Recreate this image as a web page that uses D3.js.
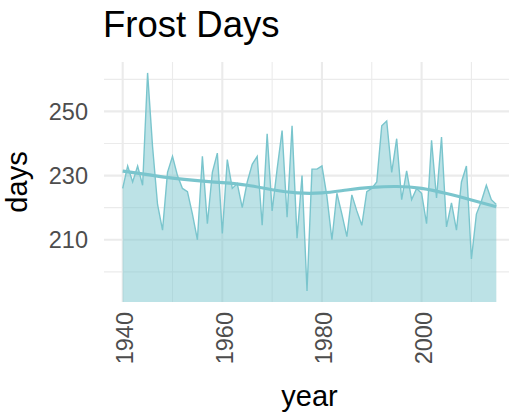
<!DOCTYPE html>
<html>
<head>
<meta charset="utf-8">
<script src="https://cdn.jsdelivr.net/npm/d3@7"></script>
<style>
  body { margin: 0; background: #fff; }
  text { font-family: "Liberation Sans", Arial, sans-serif; }
</style>
</head>
<body>
<div class="visHolder"></div>
<script>
// data
const years = d3.range(1940, 2016);
const days = [
  226, 233, 228, 233, 227, 262, 239, 221, 213, 231,
  236, 230, 226, 225, 218, 210, 236, 215, 231, 237,
  212, 235, 226, 227.5, 220, 228, 233.5, 236, 214.5, 243,
  219, 232, 244, 217, 245.5, 210.5, 230, 194, 232, 232,
  233, 223.5, 210, 224.5, 218, 211, 224, 219, 214.5, 225,
  226, 228, 245.5, 247, 231, 241.5, 222.5, 231.5, 222.5, 226,
  224.5, 215, 241, 223, 242, 214, 221.5, 213, 228, 233,
  204, 218, 222, 227, 222.5, 221
];
// smoothed trend
const trendYears = [1940, 1945, 1950, 1955, 1960, 1965, 1970, 1975, 1980, 1985, 1990, 1995, 2000, 2005, 2010, 2015];
const trendDays = [231.4, 230.3, 229.2, 228.4, 227.8, 227.0, 225.6, 224.6, 224.6, 225.5, 226.3, 226.6, 226.0, 224.4, 222.4, 220.3];

const xMajor = [1940, 1960, 1980, 2000];
const xMinor = [1950, 1970, 1990, 2010];
const yMajor = [210, 230, 250];
const yMinor = [200, 220, 240, 260];

const w = 509;
const h = 419;
const pLeft = 104, pRight = 515, pTop = 62, pBottom = 302;
const col = '#7AC5CD'; // cadetblue3

const svg = d3.select('.visHolder').append('svg').attr('width', w).attr('height', h)

// scales with 5% expansion like ggplot
const xr = d3.extent(years), yr = d3.extent(days);
const xPad = (xr[1] - xr[0]) * 0.05, yPad = (yr[1] - yr[0]) * 0.05;
const xScale = d3.scaleLinear().domain([xr[0] - xPad, xr[1] + xPad]).range([pLeft, pRight]);
const yScale = d3.scaleLinear().domain([yr[0] - yPad, yr[1] + yPad]).range([pBottom, pTop]);

// grid
const grid = svg.append('g').attr('stroke', '#EBEBEB');
grid.selectAll('.ymin').data(yMinor).enter().append('line')
  .attr('x1', pLeft).attr('x2', pRight).attr('y1', d => yScale(d)).attr('y2', d => yScale(d)).attr('stroke-width', 1.1)
grid.selectAll('.xmin').data(xMinor).enter().append('line')
  .attr('y1', pTop).attr('y2', pBottom).attr('x1', d => xScale(d)).attr('x2', d => xScale(d)).attr('stroke-width', 1.1)
grid.selectAll('.ymaj').data(yMajor).enter().append('line')
  .attr('x1', pLeft).attr('x2', pRight).attr('y1', d => yScale(d)).attr('y2', d => yScale(d)).attr('stroke-width', 2.1)
grid.selectAll('.xmaj').data(xMajor).enter().append('line')
  .attr('y1', pTop).attr('y2', pBottom).attr('x1', d => xScale(d)).attr('x2', d => xScale(d)).attr('stroke-width', 2.1)

// area + line
const pts = years.map((y, i) => [y, days[i]]);
const area = d3.area().x(d => xScale(d[0])).y0(pBottom).y1(d => yScale(d[1]));
const line = d3.line().x(d => xScale(d[0])).y(d => yScale(d[1]));
svg.append('path').datum(pts).attr('d', area).attr('fill', col).attr('fill-opacity', 0.5)
svg.append('path').datum(pts).attr('d', line).attr('fill', 'none').attr('stroke', col).attr('stroke-width', 1.4)

// smooth
const trend = trendYears.map((y, i) => [y, trendDays[i]]);
svg.append('path').datum(trend).attr('d', line.curve(d3.curveNatural))
  .attr('fill', 'none').attr('stroke', col).attr('stroke-width', 3.2)

// axes labels
svg.append('g').selectAll('text').data(yMajor).enter().append('text')
  .attr('x', 88).attr('y', d => yScale(d)).attr('dy', '0.36em')
  .attr('text-anchor', 'end').attr('fill', '#4D4D4D').style('font-size', '23.5px')
  .text(d => d)
svg.append('g').selectAll('text').data(xMajor).enter().append('text')
  .attr('transform', d => 'translate(' + xScale(d) + ',312) rotate(-90)')
  .attr('dy', '0.44em').attr('text-anchor', 'end').attr('fill', '#4D4D4D').style('font-size', '23.5px')
  .text(d => d)

// titles
svg.append('text').attr('x', 103).attr('y', 37).style('font-size', '36.5px').attr('fill', '#000').text('Frost Days')
svg.append('text').attr('x', (pLeft + pRight) / 2).attr('y', 406).attr('text-anchor', 'middle')
  .style('font-size', '29px').attr('fill', '#000').text('year')
svg.append('text').attr('transform', 'translate(27,' + (pTop + pBottom) / 2 + ') rotate(-90)')
  .attr('text-anchor', 'middle').style('font-size', '29px').attr('fill', '#000').text('days')
</script>
</body>
</html>
